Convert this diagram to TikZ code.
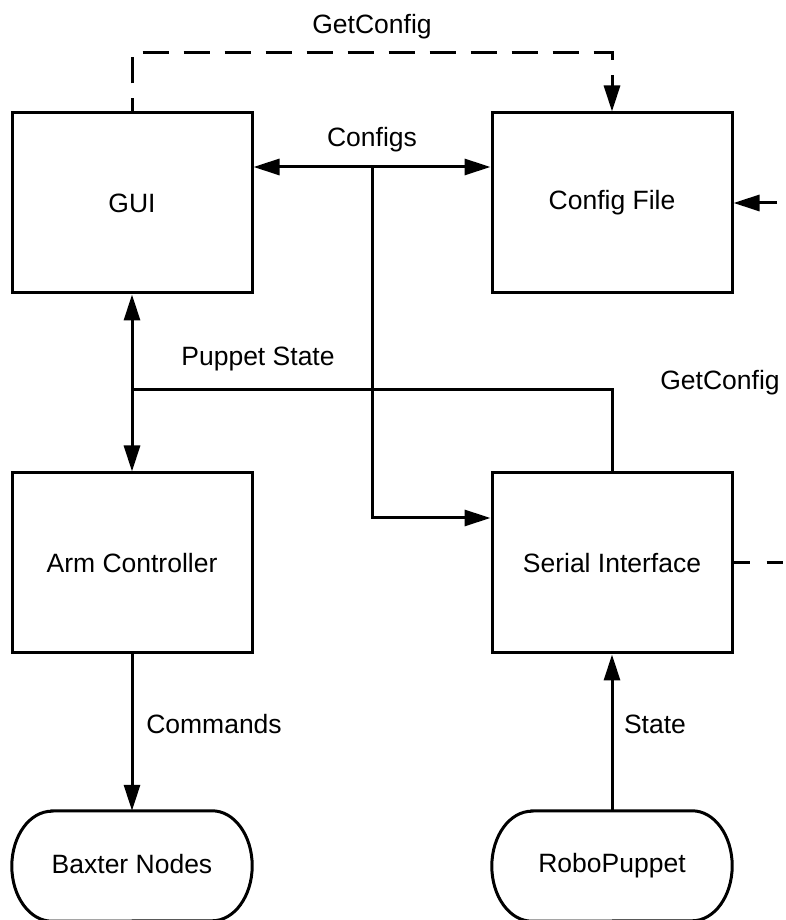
\documentclass[tikz,border=0pt]{standalone}
\usepackage{fontspec}
\setmainfont{Liberation Sans}
\usetikzlibrary{arrows.meta}
\begin{document}
\begin{tikzpicture}[x=1pt,y=1pt,
  lbl/.style={font=\fontsize{26.5}{31}\selectfont, inner sep=0pt},
  box/.style={draw, line width=3pt, minimum width=240pt, minimum height=180pt, inner sep=0pt, font=\fontsize{26.5}{31}\selectfont},
  term/.style={minimum width=240pt, minimum height=110pt, inner sep=0pt, font=\fontsize{26.5}{31}\selectfont},
  termline/.style={line width=3pt},
  conn/.style={line width=3pt, -{Triangle[length=26pt,width=16pt]}},
  biconn/.style={line width=3pt, {Triangle[length=26pt,width=16pt]}-{Triangle[length=26pt,width=16pt]}},
  plain/.style={line width=3pt},
  dashconn/.style={line width=3pt, dash pattern=on 26pt off 15pt, dash phase=13pt, -{Triangle[length=26pt,width=16pt]}},
  dashline/.style={line width=3pt, dash pattern=on 16pt off 17pt}
]
\useasboundingbox (0,0) rectangle (786,920);
\fill[white] (0,0) rectangle (786,920);
\clip (0,0) rectangle (786,920);

% boxes
\node[box] (gui) at (132,717) {GUI};
\node[box] (cfg) at (612,717) {Config File};
\node[box] (arm) at (132,357) {Arm Controller};
\node[box] (ser) at (612,357) {Serial Interface};

% terminators
\node[term] (bax) at (132,54) {\raisebox{4pt}{Baxter Nodes}};
\node[term] (rob) at (612,54) {\raisebox{4pt}{RoboPuppet}};
\foreach \n in {bax,rob}{
  \draw[termline] ([xshift=40pt]\n.north west) -- ([xshift=-40pt]\n.north east)
    arc[start angle=90,end angle=-90,x radius=40pt,y radius=55pt]
    -- ([xshift=40pt]\n.south west)
    arc[start angle=270,end angle=90,x radius=40pt,y radius=55pt] -- cycle;
}

% coordinates
\coordinate (topy) at (132,867);
\coordinate (cj) at (372,753);
\coordinate (cd) at (372,402);
\coordinate (ps) at (132,530);
\coordinate (rx) at (810,357);
\coordinate (ry) at (810,717);
\coordinate (cx) at (777,717);

% GetConfig dashed top
\draw[dashconn] (gui.north) -- (topy) -| (cfg.north);
\node[lbl] (lgc) at (372,893) {GetConfig};

% Configs
\draw[biconn] (gui.east |- cj) -- (cfg.west |- cj);
\node[lbl] (lcf) at (372,780) {Configs};
\draw[conn] (cj) -- (cd) -- (ser.west |- cd);

% GUI <-> Arm
\draw[biconn] (gui.south) -- (arm.north);

% Puppet State
\draw[plain] (ser.north) |- (ps);
\node[lbl] (lps) at (258,561) {Puppet State};

% Commands / State
\draw[conn] (arm.south) -- (bax.north);
\node[lbl] (lcm) at (214,196) {Commands};
\draw[conn] (rob.north) -- (ser.south);
\node[lbl] (lst) at (655,196) {State};

% right dashed loop (leaves the picture)
\draw[dashline] (ser.east) -- (rx) -- (ry);
\draw[conn] (cx) -- (cfg.east);
\node[lbl] (lgc2) at (720,537) {GetConfig};
\end{tikzpicture}
\end{document}
